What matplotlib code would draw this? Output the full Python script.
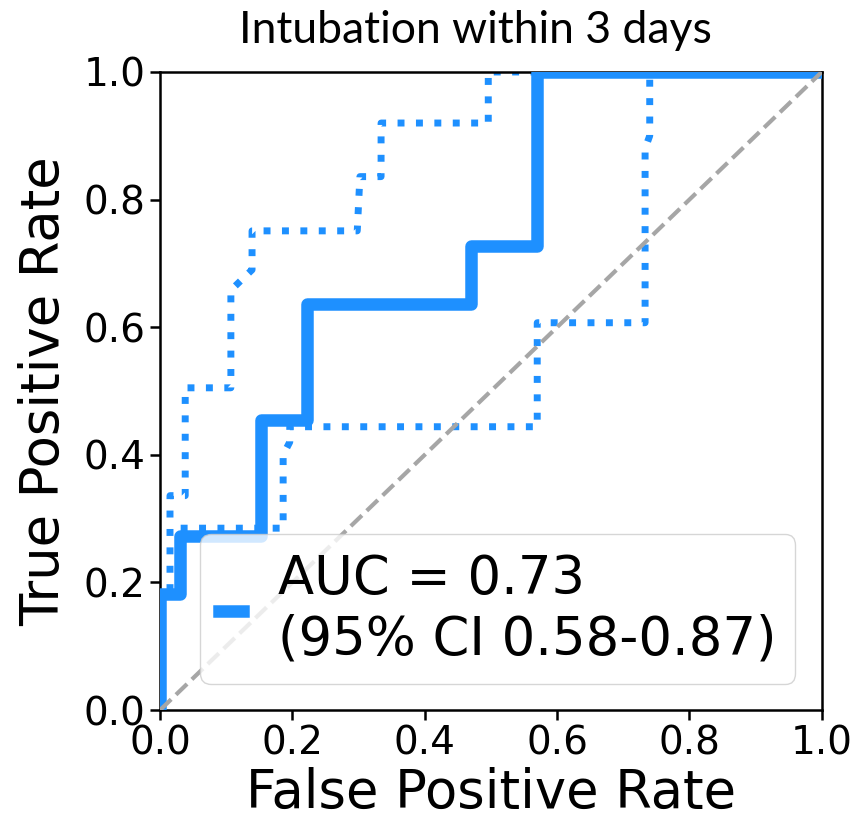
import numpy as np
import matplotlib.pyplot as plt

### DATOS
### ------------------

title = "Intubation within 3 days"

# curva ROC principal (vertices tal como salen de roc_curve)
fpr = [0.0, 0.0, 0.03, 0.03, 0.153, 0.153, 0.222, 0.222, 0.47, 0.47, 0.57, 0.57, 1.0]
tpr = [0.0, 0.182, 0.182, 0.273, 0.273, 0.455, 0.455, 0.636, 0.636, 0.727, 0.727, 1.0, 1.0]

# bandas del intervalo de confianza (bootstrap)
fpr_upper = [0.0, 0.0, 0.015, 0.015, 0.038, 0.038, 0.107, 0.107, 0.139, 0.139, 0.298, 0.302,
             0.334, 0.334, 0.496, 0.496, 1.0]
tpr_upper = [0.0, 0.18, 0.18, 0.336, 0.336, 0.505, 0.505, 0.658, 0.69, 0.751, 0.751, 0.836,
             0.836, 0.92, 0.92, 1.0, 1.0]

fpr_lower = [0.0, 0.0, 0.03, 0.03, 0.186, 0.186, 0.196, 0.196, 0.57, 0.57, 0.733, 0.733,
             0.74, 0.74, 1.0]
tpr_lower = [0.0, 0.18, 0.18, 0.285, 0.285, 0.40, 0.42, 0.444, 0.444, 0.607, 0.607, 0.88,
             0.90, 1.0, 1.0]

auc = 0.73
ci_low, ci_high = 0.58, 0.87

### GRAFICA
### ------------------

color = "#1E90FF"

fig = plt.figure(figsize=(8.56, 8.18), dpi=100)
ax = fig.add_axes([0.187, 0.132, 0.773, 0.78])

ax.plot(fpr_upper, tpr_upper, color=color, lw=5, ls=":", zorder=2)
ax.plot(fpr_lower, tpr_lower, color=color, lw=5, ls=":", zorder=2)
ax.plot(fpr, tpr, color=color, lw=9, zorder=3,
        label="AUC = %.2f\n(95%% CI %.2f-%.2f)" % (auc, ci_low, ci_high))
ax.plot([0, 1], [0, 1], color="#a6a6a6", lw=3, ls="--", zorder=4)

ax.set_xlim(0, 1)
ax.set_ylim(0, 1)
ax.set_xticks(np.arange(0, 1.01, 0.2))
ax.set_yticks(np.arange(0, 1.01, 0.2))
ax.tick_params(labelsize=28, length=7, width=1.8)
for s in ax.spines.values():
    s.set_linewidth(1.8)

ax.set_xlabel("False Positive Rate", fontsize=38, labelpad=3)
ax.set_ylabel("True Positive Rate", fontsize=38, labelpad=10)
ax.set_title(title, fontsize=32, family=["Lato", "DejaVu Sans"], pad=21, x=0.477)

ax.legend(loc="lower right", fontsize=38, handlelength=0.45, handletextpad=0.68,
          borderpad=0.35, borderaxespad=0.5)

fig.savefig("out.png", dpi=100)
